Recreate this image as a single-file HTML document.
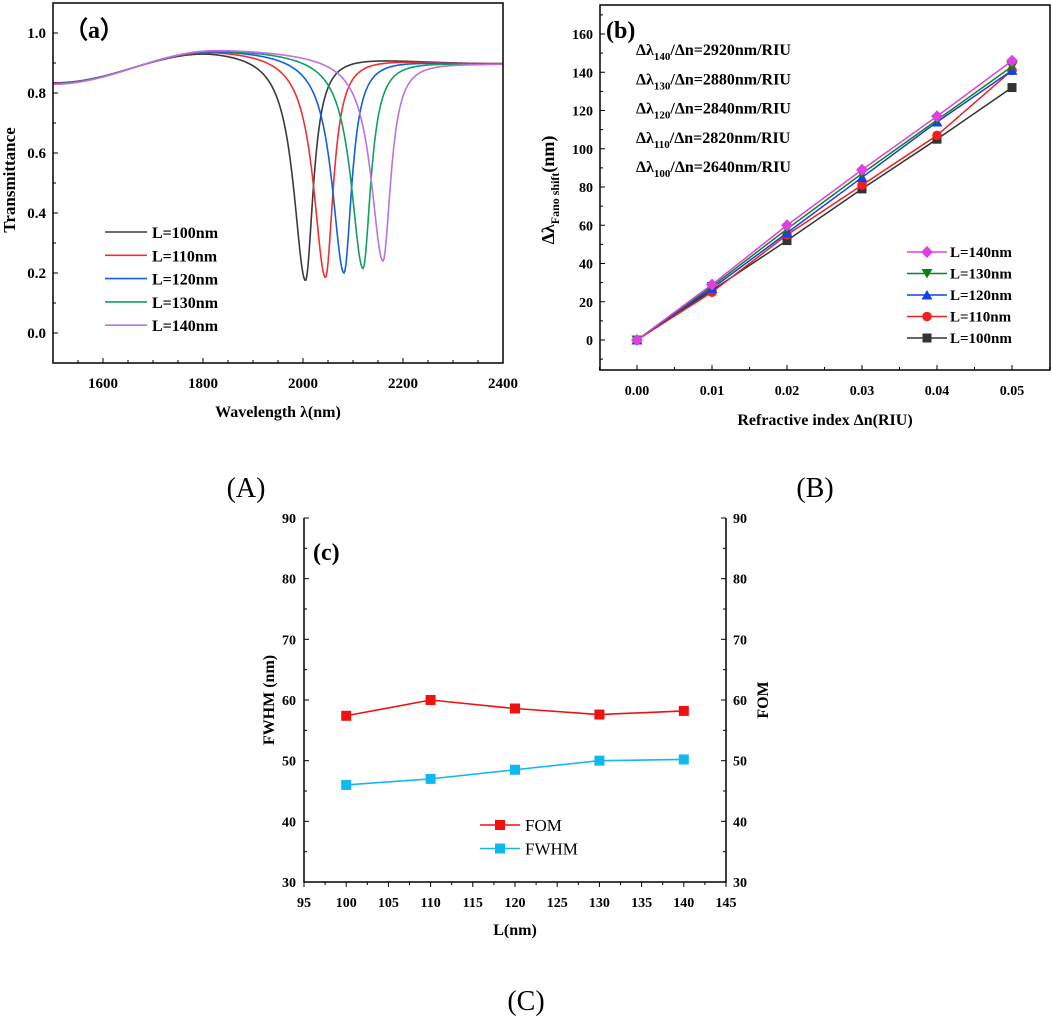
<!DOCTYPE html>
<html><head><meta charset="utf-8">
<style>
html,body{margin:0;padding:0;background:#fff;}
svg{display:block;font-family:"Liberation Serif",serif;}
.b{font-weight:bold;}
</style></head>
<body>
<svg id="fig" width="1052" height="1022" viewBox="0 0 1052 1022" xmlns="http://www.w3.org/2000/svg">
<g id="pa"></g>
<g id="pb"></g>
<g id="pc"></g>
<text x="246" y="497" font-size="28" text-anchor="middle">(A)</text>
<text x="815" y="497" font-size="28" text-anchor="middle">(B)</text>
<text x="526" y="1010" font-size="28" text-anchor="middle">(C)</text>
</svg>
<script>
// ---------- Panel (a) data ----------
const aNames = ["L=100nm","L=110nm","L=120nm","L=130nm","L=140nm"];
const aColors = ["#3a3a3a","#f03030","#1060e0","#10a060","#c070e0"];
const aDipCenter = [2005, 2045, 2082, 2120, 2160];
const aDipMin = [0.175, 0.185, 0.2, 0.215, 0.24];
const aBaseX = [1500, 1830, 2400];
const aBaseY = [0.836, 0.947, 0.9];
const aXTicks = [1600, 1800, 2000, 2200, 2400];
const aYTicks = [0.0, 0.2, 0.4, 0.6, 0.8, 1.0];
// ---------- Panel (b) data ----------
const bX = [0, 0.01, 0.02, 0.03, 0.04, 0.05];
const b140 = [0, 29, 60, 89, 117, 146];
const b130 = [0, 28, 58, 87, 115, 143];
const b120 = [0, 27, 56, 85, 114, 141];
const b110 = [0, 25, 55, 81, 107, 141];
const b100 = [0, 26, 52, 79, 105, 132];
const bXTicks = [0, 0.01, 0.02, 0.03, 0.04, 0.05];
const bYTicks = [0, 20, 40, 60, 80, 100, 120, 140, 160];
const bNotes = [["140","2920"],["130","2880"],["120","2840"],["110","2820"],["100","2640"]];
// ---------- Panel (c) data ----------
const cX = [100, 110, 120, 130, 140];
const cFOM = [57.4, 60, 58.6, 57.6, 58.2];
const cFWHM = [46, 47, 48.5, 50, 50.2];
const cXTicks = [95, 100, 105, 110, 115, 120, 125, 130, 135, 140, 145];
const cYTicks = [30, 40, 50, 60, 70, 80, 90];

const NS = "http://www.w3.org/2000/svg";
function mk(parent, tag, attrs, text){
  const e = document.createElementNS(NS, tag);
  for (const k in attrs) e.setAttribute(k, attrs[k]);
  if (text !== undefined) e.textContent = text;
  parent.appendChild(e);
  return e;
}

// ===== Panel A =====
(function(){
  const g = document.getElementById("pa");
  const X0=53, X1=503, Y0=3, Y1=363;
  const sx = v => X0 + (v-1500)*(X1-X0)/900;
  const sy = v => Y1 - (v+0.1)*(Y1-Y0)/1.2;
  function base(l){
    for (let i=0;i<aBaseX.length-1;i++){
      if (l<=aBaseX[i+1]){
        const t=(l-aBaseX[i])/(aBaseX[i+1]-aBaseX[i]);
        const s=(1-Math.cos(Math.PI*t))/2;
        return aBaseY[i]+(aBaseY[i+1]-aBaseY[i])*s;
      }
    }
    return aBaseY[aBaseY.length-1];
  }
  for (let k=0;k<aNames.length;k++){
    let d="";
    for (let l=1500;l<=2400;l+=2){
      const b = base(l) - 0.0015*k*Math.max(0,(1850-l)/350);
      const hw = l<aDipCenter[k] ? 29 : 19;
      const e = (l-aDipCenter[k])/hw;
      const depth = b - aDipMin[k];
      const v = b - depth/(1+e*e);
      d += (d?"L":"M")+sx(l).toFixed(1)+" "+sy(v).toFixed(2);
    }
    const p = mk(g,"path",{d:d,fill:"none",stroke:aColors[k],"stroke-width":1.6});
    
    
  }
  const frame = mk(g,"rect",{x:X0,y:Y0,width:X1-X0,height:Y1-Y0,fill:"none",stroke:"#000","stroke-width":1.5});
  
  
  for (let v=1500; v<=2400; v+=50){
    mk(g,"line",{x1:sx(v),x2:sx(v),y1:Y1,y2:Y1-(v%200===0?5:3),stroke:"#000"});
  }
  aXTicks.forEach(v=>{
    const t = mk(g,"text",{x:sx(v),y:388,"font-size":15,"text-anchor":"middle",class:"b"},String(v));
    
    
  });
  for (let v=-0.1; v<=1.1; v+=0.1){
    mk(g,"line",{x1:X0,x2:X0+(Math.round(v*10)%2===0?5:3),y1:sy(v),y2:sy(v),stroke:"#000"});
  }
  aYTicks.forEach(v=>{
    const t = mk(g,"text",{x:46,y:sy(v)+5,"font-size":15,"text-anchor":"end",class:"b"},v.toFixed(1));
    
    
  });
  const xt = mk(g,"text",{x:278,y:417,"font-size":16,"text-anchor":"middle",class:"b"},"Wavelength λ(nm)");
  
  
  const yt = mk(g,"text",{x:0,y:0,"font-size":17,"text-anchor":"middle",class:"b",transform:"translate(15,180) rotate(-90)"},"Transmittance");
  
  
  const pl = mk(g,"text",{x:64,y:38,"font-size":24,class:"b"},"（a）");
  
  
  aNames.forEach((n,i)=>{
    const y = 232 + i*23.3;
    const ln = mk(g,"line",{x1:105,x2:147,y1:y,y2:y,stroke:aColors[i],"stroke-width":1.6});
    
    
    const t = mk(g,"text",{x:152,y:y+6,"font-size":16,class:"b"},n);
    
    
  });
})();

// ===== Panel B =====
(function(){
  const g = document.getElementById("pb");
  const X0=600, X1=1050, Y0=5, Y1=370;
  const sx = v => 637 + v*7500;
  const sy = v => 340 - v*1.9125;
  const series = [
    {n:"L=140nm", c:"#e040e0", y:b140, m:"diamond"},
    {n:"L=130nm", c:"#108010", y:b130, m:"tridown"},
    {n:"L=120nm", c:"#1040f0", y:b120, m:"triup"},
    {n:"L=110nm", c:"#f02020", y:b110, m:"circle"},
    {n:"L=100nm", c:"#333333", y:b100, m:"square"}
  ];
  function marker(x,y,m,c){
    let e;
    if (m==="diamond") e = mk(g,"polygon",{points:`${x},${y-6} ${x+6},${y} ${x},${y+6} ${x-6},${y}`,fill:c});
    else if (m==="tridown") e = mk(g,"polygon",{points:`${x-5.5},${y-4.5} ${x+5.5},${y-4.5} ${x},${y+5}`,fill:c});
    else if (m==="triup") e = mk(g,"polygon",{points:`${x-5.5},${y+4.5} ${x+5.5},${y+4.5} ${x},${y-5}`,fill:c});
    else if (m==="circle") e = mk(g,"circle",{cx:x,cy:y,r:4.8,fill:c});
    else e = mk(g,"rect",{x:x-4.5,y:y-4.5,width:9,height:9,fill:c});
    return e;
  }
  series.slice().reverse().forEach(s=>{
    const d = bX.map((v,i)=>(i?"L":"M")+sx(v)+" "+sy(s.y[i])).join("");
    const p = mk(g,"path",{d:d,fill:"none",stroke:s.c,"stroke-width":1.5});
    
    
    bX.forEach((v,i)=>{
      const e = marker(sx(v),sy(s.y[i]),s.m,s.c);
      
      
    });
  });
  const frame = mk(g,"rect",{x:X0,y:Y0,width:X1-X0,height:Y1-Y0,fill:"none",stroke:"#000","stroke-width":1.5});
  
  
  for (let i=-1;i<=11;i++){
    const v=i*0.005;
    mk(g,"line",{x1:sx(v),x2:sx(v),y1:Y1,y2:Y1-(i%2===0?5:3),stroke:"#000"});
  }
  bXTicks.forEach(v=>{
    const t = mk(g,"text",{x:sx(v),y:395,"font-size":14,"text-anchor":"middle",class:"b"},v.toFixed(2));
    
    
  });
  for (let v=-10; v<=170; v+=10){
    mk(g,"line",{x1:X0,x2:X0+(v%20===0?5:3),y1:sy(v),y2:sy(v),stroke:"#000"});
  }
  bYTicks.forEach(v=>{
    const t = mk(g,"text",{x:593,y:sy(v)+5,"font-size":14,"text-anchor":"end",class:"b"},String(v));
    
    
  });
  const xt = mk(g,"text",{x:825,y:425,"font-size":16,"text-anchor":"middle",class:"b"},"Refractive index Δn(RIU)");
  
  
  const yt = mk(g,"text",{x:0,y:0,"font-size":18,"text-anchor":"middle",class:"b",transform:"translate(554,190) rotate(-90)"});
  
  
  mk(yt,"tspan",{},"Δλ");
  mk(yt,"tspan",{"font-size":12,dy:5},"Fano shift");
  mk(yt,"tspan",{dy:-5},"(nm)");
  const pl = mk(g,"text",{x:606,y:38,"font-size":24,class:"b"},"(b)");
  
  
  bNotes.forEach((n,i)=>{
    const t = mk(g,"text",{x:636,y:55+i*29.3,"font-size":16,class:"b"});
    
    
    mk(t,"tspan",{},"Δλ");
    mk(t,"tspan",{"font-size":11,dy:5},n[0]);
    mk(t,"tspan",{dy:-5},"/Δn="+n[1]+"nm/RIU");
  });
  series.forEach((s,i)=>{
    const y = 252 + i*21.5;
    const ln = mk(g,"line",{x1:907,x2:947,y1:y,y2:y,stroke:s.c,"stroke-width":1.5});
    
    
    const m = marker(927,y,s.m,s.c);
    
    
    const t = mk(g,"text",{x:950,y:y+5,"font-size":15,class:"b"},s.n);
    
    
  });
})();

// ===== Panel C =====
(function(){
  const g = document.getElementById("pc");
  const X0=304, X1=726, Y0=518, Y1=882;
  const sx = v => X0 + (v-95)*(X1-X0)/50;
  const sy = v => Y1 - (v-30)*(Y1-Y0)/60;
  [[cFOM,"#f01010","fom"],[cFWHM,"#10b8f0","fwhm"]].forEach(([ys,c,n])=>{
    const d = cX.map((v,i)=>(i?"L":"M")+sx(v)+" "+sy(ys[i])).join("");
    const p = mk(g,"path",{d:d,fill:"none",stroke:c,"stroke-width":1.6});
    
    
    cX.forEach((v,i)=>{
      const r = mk(g,"rect",{x:sx(v)-5,y:sy(ys[i])-5,width:10,height:10,fill:c});
      
      
    });
  });
  const ax = mk(g,"path",{d:`M${X0} ${Y0}V${Y1}H${X1}V${Y0}`,fill:"none",stroke:"#000","stroke-width":1.5});
  
  
  for (let v=95; v<=145; v+=2.5){
    mk(g,"line",{x1:sx(v),x2:sx(v),y1:Y1,y2:Y1+(v%5===0?5:3),stroke:"#000"});
  }
  cXTicks.forEach(v=>{
    const t = mk(g,"text",{x:sx(v),y:907,"font-size":14,"text-anchor":"middle",class:"b"},String(v));
    
    
  });
  for (let v=30; v<=90; v+=5){
    const L = v%10===0?5:3;
    mk(g,"line",{x1:X0,x2:X0+L,y1:sy(v),y2:sy(v),stroke:"#000"});
    mk(g,"line",{x1:X1,x2:X1-L,y1:sy(v),y2:sy(v),stroke:"#000"});
  }
  cYTicks.forEach(v=>{
    const t = mk(g,"text",{x:296,y:sy(v)+5,"font-size":14,"text-anchor":"end",class:"b"},String(v));
    
    
    const t2 = mk(g,"text",{x:733,y:sy(v)+5,"font-size":14,class:"b"},String(v));
    
    
  });
  const xt = mk(g,"text",{x:515,y:935,"font-size":16,"text-anchor":"middle",class:"b"},"L(nm)");
  
  
  const yl = mk(g,"text",{x:0,y:0,"font-size":16,"text-anchor":"middle",class:"b",transform:"translate(274,700) rotate(-90)"},"FWHM (nm)");
  
  
  const yr = mk(g,"text",{x:0,y:0,"font-size":16,"text-anchor":"middle",class:"b",transform:"translate(768,700) rotate(-90)"},"FOM");
  
  
  const pl = mk(g,"text",{x:313,y:560,"font-size":24,class:"b"},"(c)");
  
  
  [["FOM","#f01010"],["FWHM","#10b8f0"]].forEach(([n,c],i)=>{
    const y = 825 + i*23.5;
    const ln = mk(g,"line",{x1:480,x2:520,y1:y,y2:y,stroke:c,"stroke-width":1.6});
    
    
    const r = mk(g,"rect",{x:495,y:y-5,width:10,height:10,fill:c});
    
    
    const t = mk(g,"text",{x:525,y:y+6,"font-size":17},n);
    
    
  });
})();
</script>
</body></html>
